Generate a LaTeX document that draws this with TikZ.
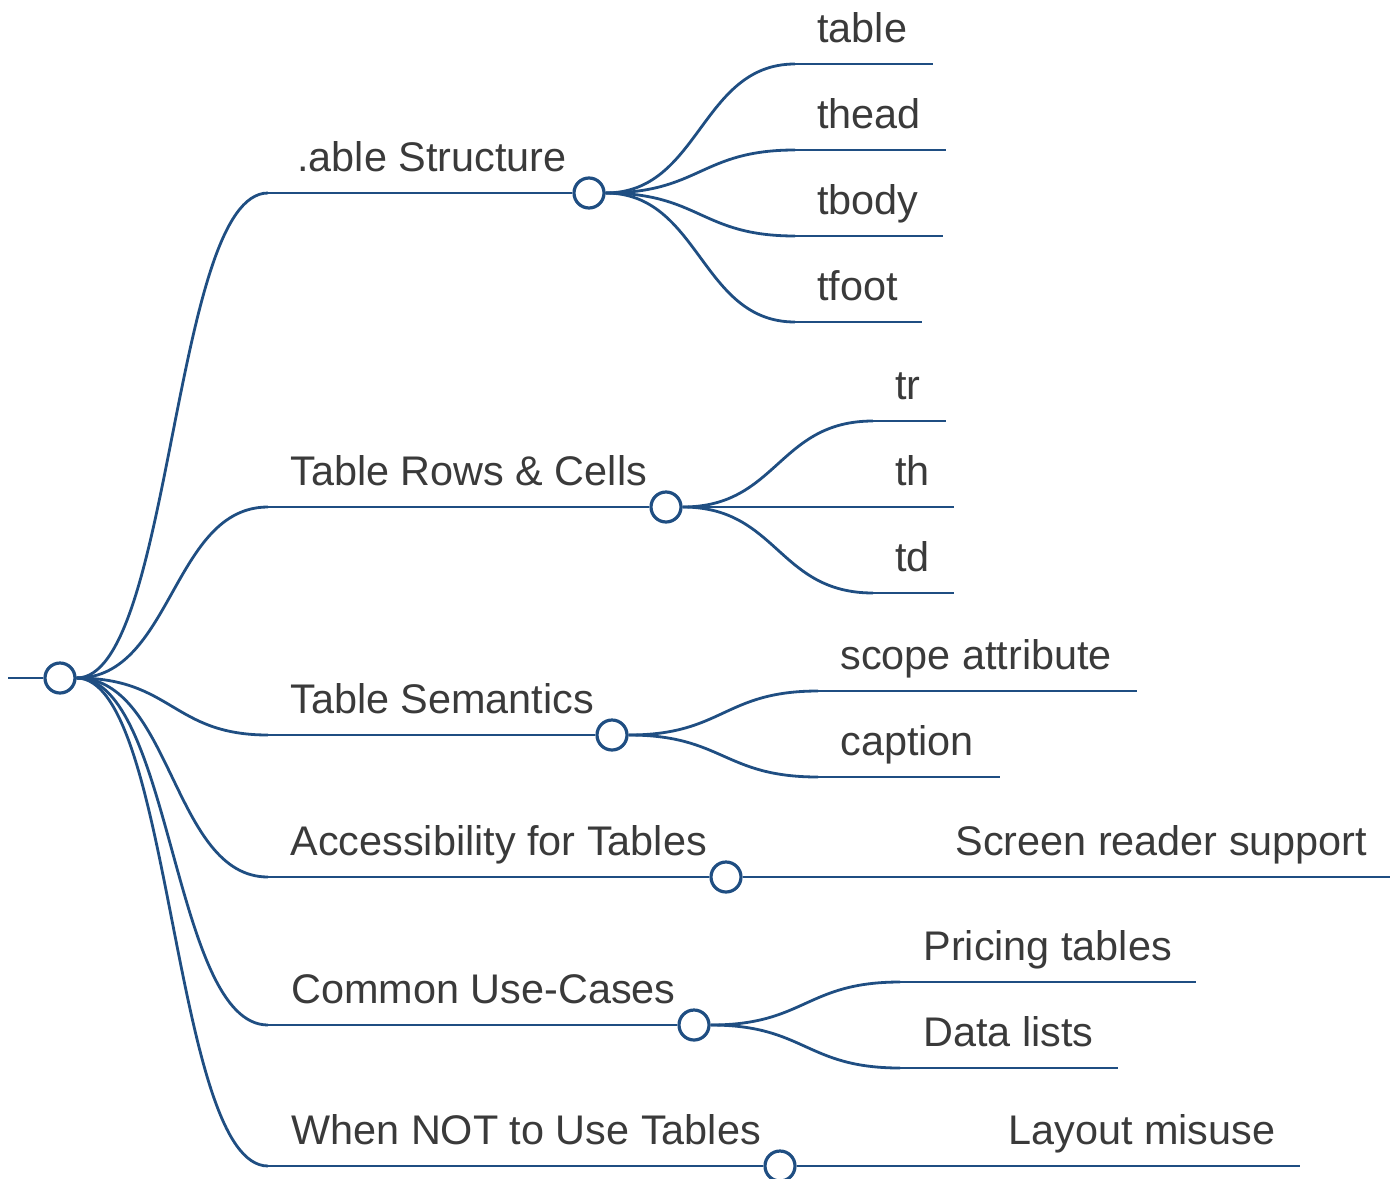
\documentclass[tikz,border=0pt]{standalone}
\usepackage{fontspec}
\setmainfont{Liberation Sans}
\usetikzlibrary{calc}
\definecolor{mapblue}{HTML}{1F4E82}
\definecolor{maptext}{HTML}{3A3A3A}
\tikzset{
  link/.style={draw=mapblue, line width=1.4pt},
  knot/.style={circle, draw=mapblue, fill=white, line width=1.6pt, minimum size=15pt, inner sep=0pt},
  lbl/.style={anchor=base west, text=maptext, inner sep=0pt, font=\fontsize{20.7}{24}\selectfont}
}
% horizontal link: controls at half way, level with both ends
\newcommand{\maplink}[2]{\draw[link] let \p1=(#1), \p2=(#2) in (\p1) .. controls ({0.5*(\x1+\x2)},\y1) and ({0.5*(\x1+\x2)},\y2) .. (\p2);}

\begin{document}
\begin{tikzpicture}[x=0.5pt,y=-0.5pt]
\useasboundingbox (0,0) rectangle (1396,1178);
% root
\node[knot] (root) at (60,678) {};
\coordinate (in) at (8,678);
\draw[link] (in) -- (root.west);
% sections
\foreach \k/\tx/\ly/\cx/\txt in {1/297/193/589/{.able Structure},
                                  2/290/507/666/{Table Rows \& Cells},
                                  3/290/735/612/{Table Semantics},
                                  4/290/877/726/{Accessibility for Tables},
                                  5/291/1025/694/{Common Use-Cases},
                                  6/291/1166/780/{When NOT to Use Tables}}{
  \coordinate (s\k) at (268,\ly);
  \node[knot] (sec\k) at (\cx,\ly) {};
  \node[lbl] (st\k) at (\tx,\ly-22) {\txt};
  \maplink{root.east}{s\k}
  \draw[link] (s\k) -- (sec\k.west);
}
% leaves
\foreach \up/\ly/\la/\lb/\tx/\txt [count=\i] in {sec1/64/795/933/817/table,
                                                 sec1/150/795/946/817/thead,
                                                 sec1/236/795/943/817/tbody,
                                                 sec1/322/795/922/817/tfoot,
                                                 sec2/421/873/946/895/tr,
                                                 sec2/507/873/954/895/th,
                                                 sec2/593/873/954/895/td,
                                                 sec3/691/818/1137/840/{scope attribute},
                                                 sec3/777/818/1000/840/caption,
                                                 sec4/877/934/1390/955/{Screen reader support},
                                                 sec5/982/900/1196/923/{Pricing tables},
                                                 sec5/1068/900/1118/923/{Data lists},
                                                 sec6/1166/987/1300/1008/{Layout misuse}}{
  \coordinate (leaf\i) at (\la,\ly);
  \coordinate (leafend\i) at (\lb,\ly);
  \node[lbl] (lt\i) at (\tx,\ly-22) {\txt};
  \maplink{\up.east}{leaf\i}
  \draw[link] (leaf\i) -- (leafend\i);
}
\end{tikzpicture}
\end{document}
